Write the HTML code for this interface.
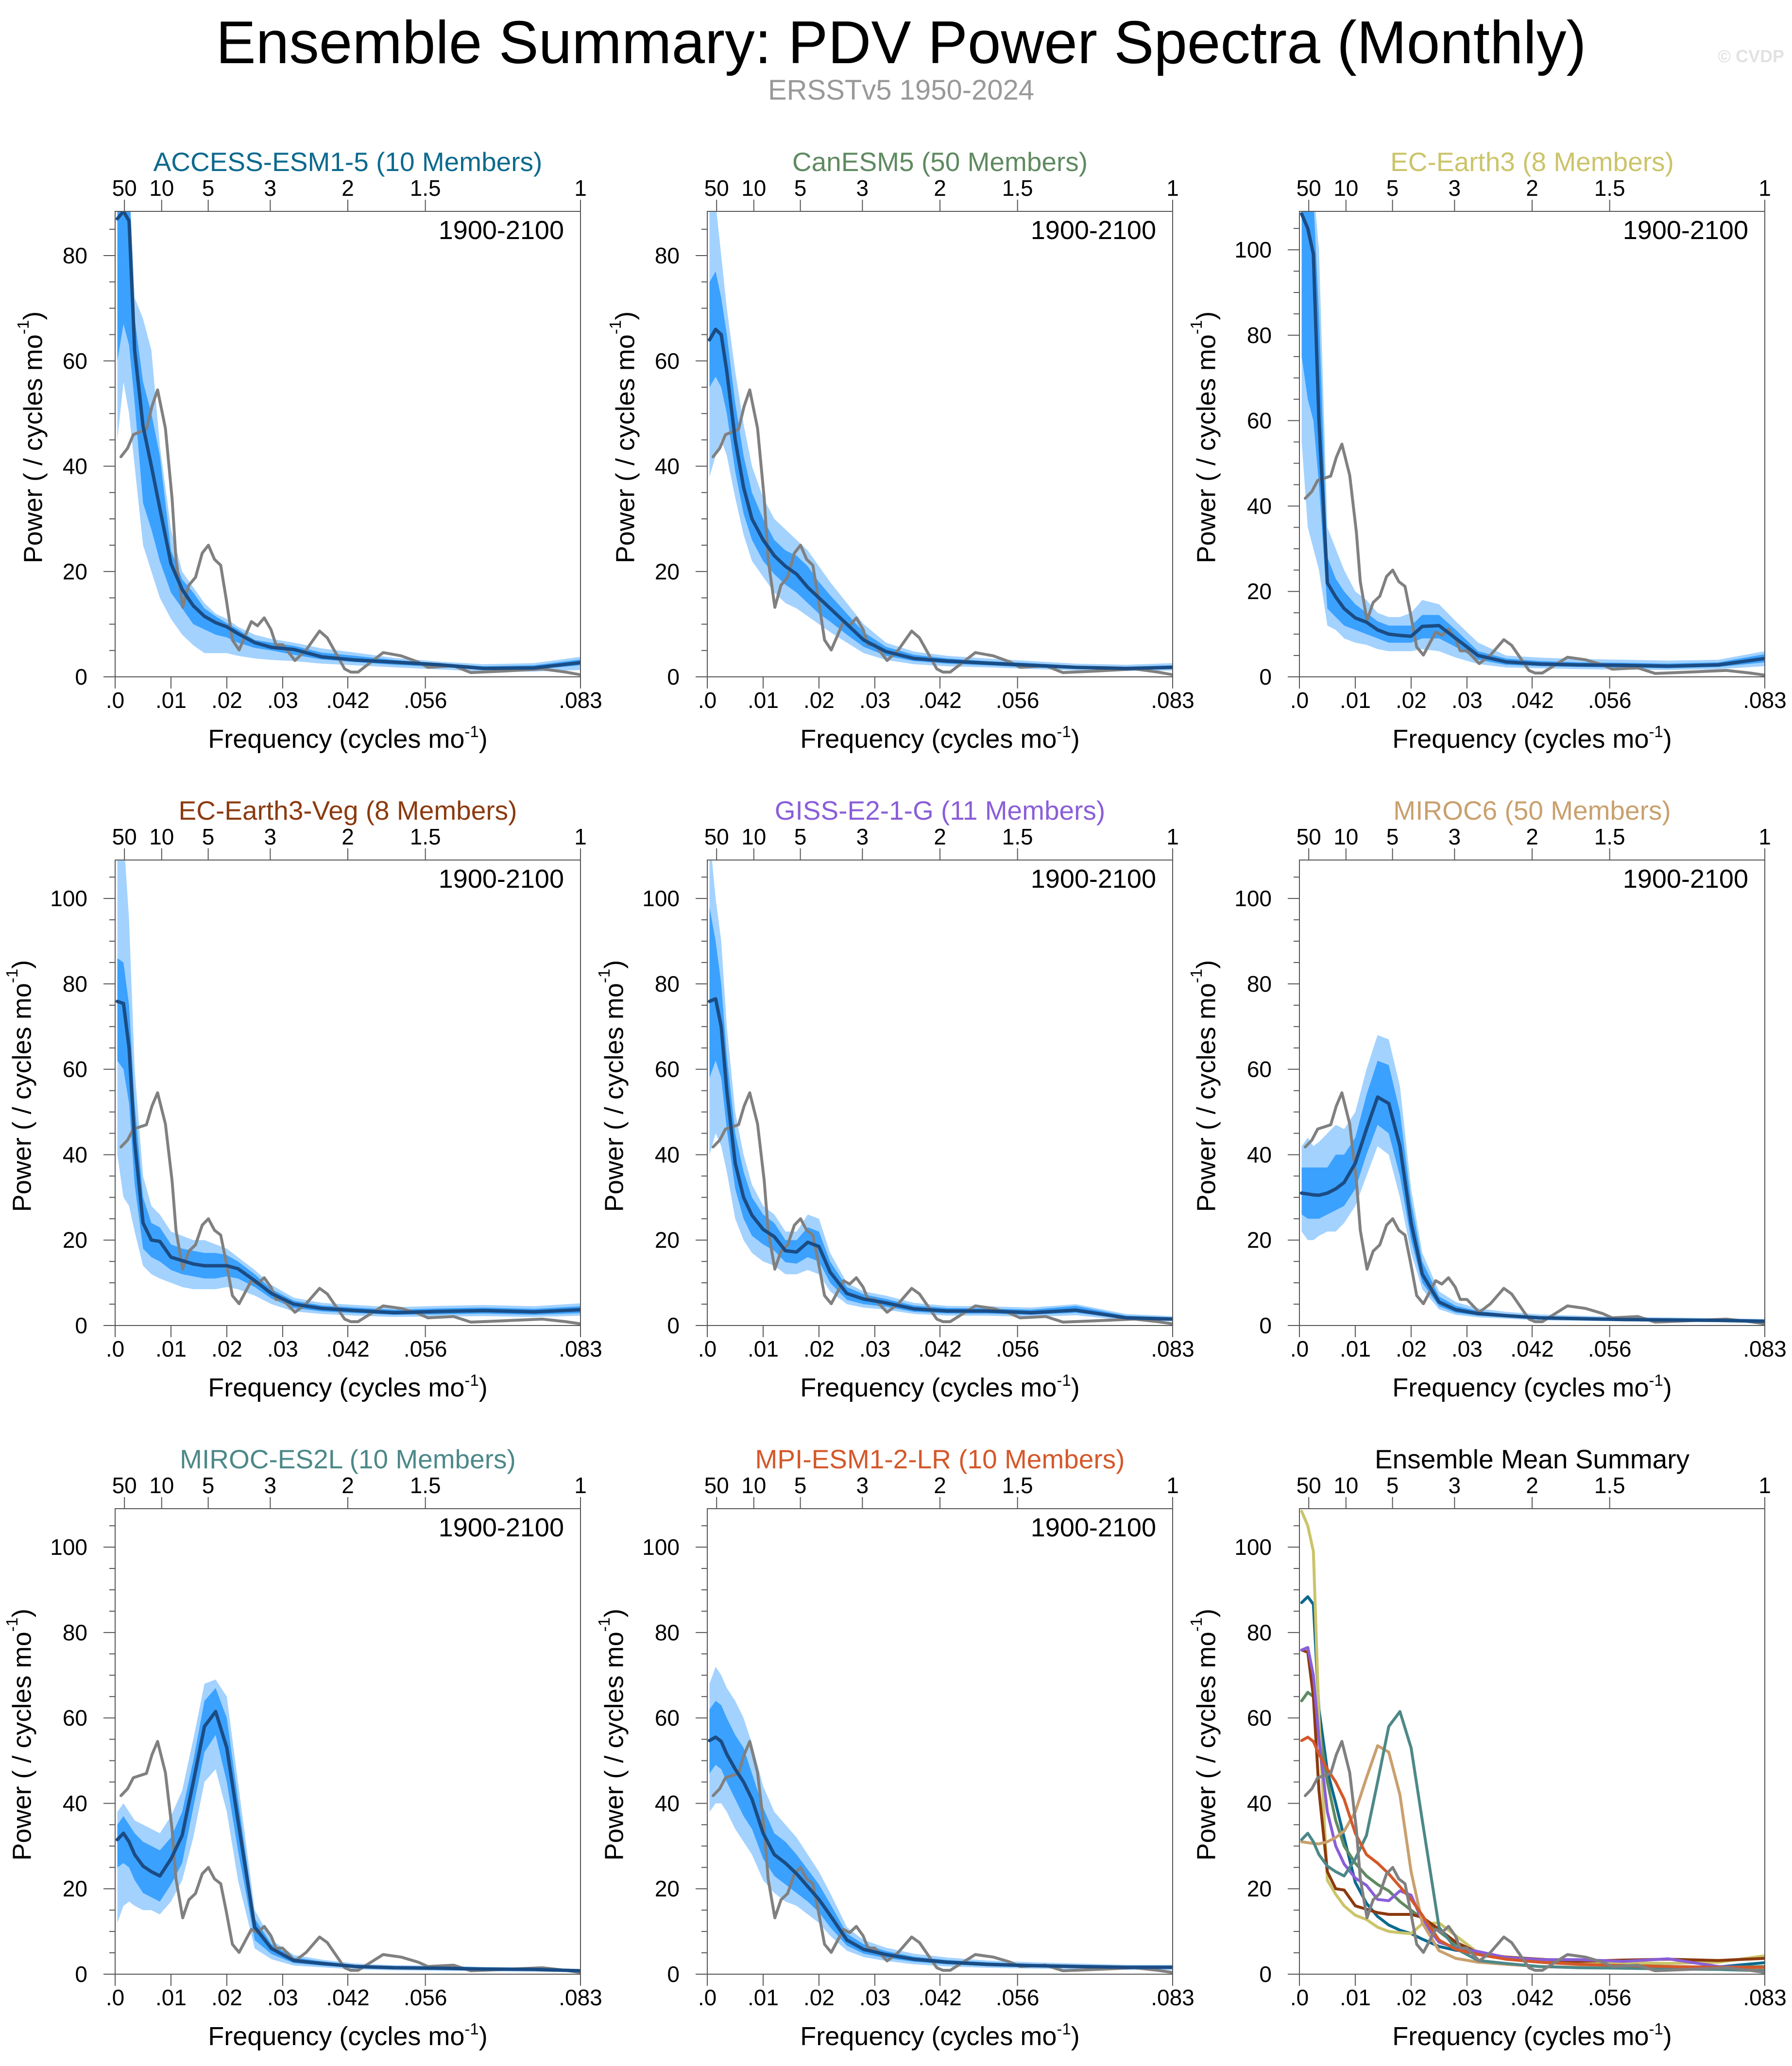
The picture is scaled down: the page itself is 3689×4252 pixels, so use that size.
<!DOCTYPE html>
<html><head><meta charset="utf-8"><style>
html,body{margin:0;padding:0;background:#fff;}
svg{display:block;font-family:"Liberation Sans",Arial,sans-serif;}
</style></head><body>
<svg id="fig" width="3689" height="4252" viewBox="0 0 3689 4252" xmlns="http://www.w3.org/2000/svg">
<text x="1855" y="130" font-size="124" text-anchor="middle" textLength="2821" lengthAdjust="spacingAndGlyphs" fill="#000">Ensemble Summary: PDV Power Spectra (Monthly)</text>
<text x="1855" y="205" font-size="58" text-anchor="middle" fill="#999">ERSSTv5 1950-2024</text>
<text x="3673" y="128" font-size="36" font-weight="bold" text-anchor="end" fill="#e2e2e2">© CVDP</text>
</svg>
<script>
// Shared frequency grid (cycles/mo)
const F = [0.0004,0.0015,0.0025,0.0035,0.005,0.0065,0.008,0.01,0.012,0.014,0.016,0.018,0.02,0.022,0.025,0.028,0.032,0.037,0.043,0.05,0.058,0.066,0.075,0.0833];
// Observations ERSSTv5
const obsF = [0.00104,0.00222,0.00326,0.0056,0.0066,0.0076,0.009,0.0102,0.0109,0.0121,0.0132,0.0144,0.0156,0.0167,0.0178,0.0189,0.0199,0.021,0.0222,0.0244,0.0255,0.0267,0.0279,0.0288,0.03,0.0322,0.0342,0.0366,0.038,0.0411,0.0422,0.0435,0.048,0.0512,0.0543,0.056,0.0606,0.0637,0.0696,0.0765,0.0807,0.0833];
const obsV = [41.8,43.4,46,47,51.4,54.5,47.2,33.8,22.3,13.2,17.4,18.9,23.5,25,22.3,21.2,14.7,7,5.1,10.5,9.7,11.2,9,6.1,6.1,3.1,5.1,8.7,7.4,1.5,0.9,0.9,4.6,4,2.8,1.8,2.1,0.8,1.1,1.5,0.9,0.4];

const accessMean = [87,88.4,86.6,62,47.6,40,32,21.5,16.6,13.5,11.5,10.3,9.5,8.2,6.5,5.6,5.2,3.8,3.2,2.8,2.3,1.6,1.7,2.7];
const accessOutHi = [95,95,95,72,68,62,44,28,20,17,14,12,11,9.5,8,7.2,6.5,5.4,4.6,3.6,2.9,2.4,2.6,3.8];
const accessOutLo = [45,56,50,40,25,20,15,11,8,6,4.5,4.5,4.5,4,3.5,3.2,3,2.5,2.2,1.8,1.4,1,1,1.3];
const accessInHi = [95,95,95,68,56,50,42,24,18.5,16,13,11.5,10.2,9,7,6.5,5.9,4.6,4,3.2,2.6,2,2.2,3.3];
const accessInLo = [60,67,63,52,33,28,22,16,13,10,9,8,7.5,6.5,5.5,5,4.2,3.3,2.8,2.3,1.9,1.3,1.4,2.2];

const canMean = [64,66,65,58,45,36,30,26,23,21,19.5,17,15,13,10,7,4.8,3.5,3,2.6,2.2,1.8,1.6,1.8];
const canOutHi = [95,90,80,70,58,48,40,34,30,28,26,24,21,18,14,10,6.5,4.8,4,3.5,3,2.5,2.3,2.6];
const canOutLo = [38,42,45,42,34,27,22,19,16,14,13,11.5,10,8.5,6.5,4.5,3.2,2.4,2,1.8,1.5,1.2,1.1,1.2];
const canInHi = [75,77,72,65,52,42,35,30,26,24,23,21,18,15.5,12,8.5,5.7,4.2,3.5,3,2.6,2.1,1.9,2.2];
const canInLo = [55,57,55,50,39,31,26,22,19.5,17.5,16,14,12,10.5,8,5.7,4,3,2.5,2.2,1.8,1.5,1.3,1.5];

const ecMean = [108.4,105,99,60,22,18.7,16,13.8,12.8,11,10,9.7,9.5,11.8,12,9,5,3.5,3,2.8,2.7,2.5,2.8,4.3];
const ecOutHi = [115,115,115,100,35,30,25,20,18,15,14,14,15,18,17,13,8,5,4.5,4.2,4,3.8,4,6];
const ecOutLo = [55,35,30,25,12,11,9,8,7.5,6.5,6,6,6,6.5,6,4.5,3,2.2,2,1.8,1.7,1.6,1.8,2.5];
const ecInHi = [115,115,112,85,28,23,20,17,15,13,12,12,12,14.5,14.5,11,6,4.3,3.7,3.4,3.3,3.1,3.4,5.3];
const ecInLo = [75,65,60,45,16,14,12,11,10,9,8,8,8,9,9,7,4,2.8,2.5,2.3,2.2,2,2.3,3.4];

const vegMean = [75.9,75.4,65,43,24,20,19.7,16,15.2,14.4,14,14,14,13.3,10.5,7.5,5,4,3.5,3,3.3,3.5,3.2,3.7];
const vegOutHi = [115,115,95,60,35,28,26,22,21,20,20,19,18,16,13,9.5,6.5,5.3,4.8,4.3,4.6,4.8,4.5,5.2];
const vegOutLo = [40,30,28,22,14,12,11,10,9,8.5,8.5,8.5,9,8.5,7,5,3.3,2.7,2.3,2,2.1,2.2,2,2.3];
const vegInHi = [86,85,75,52,30,24,23,19,18,17.5,17,17,16.5,15,12,8.5,5.8,4.7,4.2,3.7,4,4.2,3.9,4.5];
const vegInLo = [62,60,52,33,18,16,15,13,12,11.5,11,11,11.5,11,9,6.3,4.1,3.3,2.9,2.5,2.6,2.8,2.5,2.9];

const gissMean = [75.9,76.5,70,55,38,30,25.8,22.5,20.8,17.5,17.2,19.5,18.5,12.5,7.5,6.2,5.3,3.9,3.4,3.4,3,3.6,1.8,1.5];
const gissOutHi = [115,100,90,70,50,40,33,28,26,22,22,26,25,17,10,8,7,5.3,4.6,4.5,4.2,5,2.7,2.2];
const gissOutLo = [40,45,42,36,25,20,17,15,14,12,12,13,12,8,5,4.2,3.7,2.7,2.3,2.3,2,2.4,1.2,1];
const gissInHi = [98,90,80,63,45,36,30,26,24,20,20,23,22,15,9,7.3,6.2,4.7,4.1,4,3.7,4.6,2.3,1.9];
const gissInLo = [58,62,58,46,32,25,21,19,17.5,14.8,14.5,16,15,10,6,5,4.4,3.2,2.8,2.8,2.5,3,1.5,1.2];

const miroc6Mean = [31,30.8,30.6,30.5,31,32,33.5,38,46,53.5,52,42,24,12,5.5,3.7,2.8,2.3,1.8,1.6,1.4,1.3,1.2,1.0];
const miroc6OutHi = [42,44,42,43,45,47,46,50,60,68,67,56,32,17,8,5.5,4,3.2,2.6,2.3,2,1.9,1.7,1.5];
const miroc6OutLo = [22,20,20,21,22,22,24,28,35,42,40,30,17,8.5,3.8,2.5,1.9,1.6,1.2,1.1,1,0.9,0.8,0.7];
const miroc6InHi = [37,37,37,37,37,40,40,44,54,62,61,50,29,15,6.8,4.6,3.4,2.7,2.2,2,1.7,1.6,1.5,1.2];
const miroc6InLo = [26,25,25,25,26,27,28,32,40,47,45,35,20,10,4.5,3,2.3,1.9,1.5,1.3,1.2,1.1,1,0.8];

const es2lMean = [31.5,33,31,28,25.3,24,23,27,32.5,45,58,61.5,53,36,11,6,3.2,2.5,1.8,1.5,1.4,1.2,1.1,0.8];
const es2lOutHi = [38,40,38,36,35,34,33,37,43,55,68,69,65,45,15,8,4.5,3.4,2.5,2.1,2,1.7,1.5,1.2];
const es2lOutLo = [12,16,17,16,15,15,14,17,22,32,45,48,38,22,6,3.5,2,1.6,1.1,0.9,0.8,0.7,0.6,0.5];
const es2lInHi = [35,37,35,33,31,30,29,32,38,50,64,67,60,41,13,7,3.9,3,2.2,1.8,1.7,1.5,1.3,1];
const es2lInLo = [25,26,25,22,19,18,17,21,26,39,52,56,45,29,8,4.7,2.6,2,1.5,1.2,1.1,1,0.9,0.6];

const mpiMean = [54.7,55.5,54.5,51.5,48,45,41,33,28,26,23.5,20.5,17.5,13.8,8,5.8,4.6,3.5,2.8,2.3,2,1.8,1.6,1.6];
const mpiOutHi = [68,72,70,67,64,60,54,44,38,35,32,28,24,19,11,8,6.2,4.8,3.9,3.2,2.8,2.5,2.2,2.2];
const mpiOutLo = [38,40,40,38,34,31,28,22,19,17,16,14,12,9,5.5,4,3.1,2.3,1.8,1.5,1.3,1.2,1,1];
const mpiInHi = [62,64,63,60,56,53,47,39,33,31,28,24.5,21,16.5,9.5,7,5.4,4.1,3.3,2.8,2.4,2.1,1.9,1.9];
const mpiInLo = [47,49,48,45,41,37,34,27,23,21,19,17,14.5,11,6.7,4.8,3.8,2.9,2.3,1.9,1.6,1.5,1.3,1.3];

const modelNames = ["ACCESS-ESM1-5 (10 Members)","CanESM5 (50 Members)","EC-Earth3 (8 Members)","EC-Earth3-Veg (8 Members)","GISS-E2-1-G (11 Members)","MIROC6 (50 Members)","MIROC-ES2L (10 Members)","MPI-ESM1-2-LR (10 Members)"];
const modelColors = ["#0d6a8e","#5f8a60","#cbc46a","#8b3a0f","#8a5ed8","#c9a06e","#4d8888","#d4582a"];
const modelMeans = [accessMean,canMean,ecMean,vegMean,gissMean,miroc6Mean,es2lMean,mpiMean];
const modelBands = [
 [accessOutHi,accessOutLo,accessInHi,accessInLo],
 [canOutHi,canOutLo,canInHi,canInLo],
 [ecOutHi,ecOutLo,ecInHi,ecInLo],
 [vegOutHi,vegOutLo,vegInHi,vegInLo],
 [gissOutHi,gissOutLo,gissInHi,gissInLo],
 [miroc6OutHi,miroc6OutLo,miroc6InHi,miroc6InLo],
 [es2lOutHi,es2lOutLo,es2lInHi,es2lInLo],
 [mpiOutHi,mpiOutLo,mpiInHi,mpiInLo]];
const yMaxes = [88.4,88.4,109,109,109,109,109,109,109];
const xTickVals = [0,0.01,0.02,0.03,1/24,1/18,1/12];
const xTickLabels = [".0",".01",".02",".03",".042",".056",".083"];
const periodVals = [50,10,5,3,2,1.5,1];

const NS = "http://www.w3.org/2000/svg";
const svg = document.getElementById("fig");
const XMAX = 1/12, W = 958, H = 958;
const colLeft = [237,1456,2675], rowTop = [435,1770,3105];

function mk(tag, attrs, parent){
  const e = document.createElementNS(NS, tag);
  for (const k in attrs) e.setAttribute(k, attrs[k]);
  (parent||svg).appendChild(e);
  return e;
}

for (let p = 0; p < 9; p++) {
  const L = colLeft[p%3], T = rowTop[Math.floor(p/3)], B = T + H, R = L + W;
  const ymax = yMaxes[p];
  const xs = f => L + f / XMAX * W;
  const ys = v => B - v / ymax * H;
  const g = mk("g", {});
  
  
  const clipId = "clip" + p;
  const cp = mk("clipPath", {id: clipId}, g);
  mk("rect", {x: L, y: T, width: W, height: H}, cp);
  const plot = mk("g", {"clip-path": "url(#" + clipId + ")"}, g);

  const line = (fs, vs, color, width, name) => {
    const pts = fs.map((f,i) => xs(f).toFixed(1) + "," + ys(vs[i]).toFixed(1)).join(" ");
    const pl = mk("polyline", {points: pts, fill: "none", stroke: color, "stroke-width": width, "stroke-linejoin": "round", "stroke-linecap": "round"}, plot);
    
    
  };
  const band = (hi, lo, color, name) => {
    const pts = F.map((f,i) => xs(f).toFixed(1) + "," + ys(hi[i]).toFixed(1))
      .concat(F.map((f,i) => xs(f).toFixed(1) + "," + ys(lo[i]).toFixed(1)).reverse()).join(" ");
    const pg = mk("polygon", {points: pts, fill: color}, plot);
    
    
  };

  let title, tcolor;
  if (p < 8) {
    const bd = modelBands[p];
    band(bd[0], bd[1], "#a3d2ff", "outer-spread-band");
    band(bd[2], bd[3], "#3ba1ff", "inner-spread-band");
    line(obsF, obsV, "#808080", 6, "obs-line");
    line(F, modelMeans[p], "#1a4c84", 7, "ensemble-mean-line");
    title = modelNames[p]; tcolor = modelColors[p];
    const yr = mk("text", {x: R - 34, y: T + 57, "font-size": 54, "text-anchor": "end", fill: "#000"}, g);
    yr.textContent = "1900-2100";
    
    
  } else {
    for (let m = 0; m < 8; m++) line(F, modelMeans[m], modelColors[m], 6, "summary-line-" + (m+1));
    line(obsF, obsV, "#808080", 6, "obs-line");
    title = "Ensemble Mean Summary"; tcolor = "#000";
  }

  const fr = mk("rect", {x: L, y: T, width: W, height: H, fill: "none", stroke: "#555", "stroke-width": 2}, g);
  
  

  for (let v = 0; v <= ymax; v += 5) {
    const major = v % 20 === 0;
    mk("line", {x1: L - (major ? 24 : 12), x2: L, y1: ys(v), y2: ys(v), stroke: "#555", "stroke-width": 2}, g);
    if (major) {
      const t = mk("text", {x: L - 57, y: ys(v) + 16, "font-size": 46, "text-anchor": "end"}, g);
      t.textContent = v;
      
      
    }
  }
  xTickVals.forEach((f,i) => {
    mk("line", {x1: xs(f), x2: xs(f), y1: B, y2: B + 24, stroke: "#555", "stroke-width": 2}, g);
    const t = mk("text", {x: xs(f), y: B + 64, "font-size": 46, "text-anchor": "middle"}, g);
    t.textContent = xTickLabels[i];
    
    
  });
  mk("line", {x1: L - 24, x2: L, y1: B, y2: B, stroke: "#555", "stroke-width": 2}, g);
  periodVals.forEach(P => {
    const f = 1 / (12 * P);
    mk("line", {x1: xs(f), x2: xs(f), y1: T, y2: T - 24, stroke: "#555", "stroke-width": 2}, g);
    const t = mk("text", {x: xs(f), y: T - 32, "font-size": 46, "text-anchor": "middle"}, g);
    t.textContent = P;
    
    
  });
  const tt = mk("text", {x: L + W/2, y: T - 83, "font-size": 55, "text-anchor": "middle", fill: tcolor}, g);
  tt.textContent = title;
  
  

  const xt = mk("text", {x: L + W/2, y: B + 146, "font-size": 54, "text-anchor": "middle"}, g);
  xt.innerHTML = 'Frequency (cycles mo<tspan font-size="33" dy="-22">-1</tspan><tspan dy="22">)</tspan>';
  
  

  const yx = L - (ymax > 100 ? 188 : 165), yy = T + H/2 - 14;
  const yt = mk("text", {x: yx, y: yy, "font-size": 54, "text-anchor": "middle", transform: "rotate(-90 " + yx + " " + yy + ")", "dominant-baseline": "middle"}, g);
  yt.innerHTML = 'Power ( / cycles mo<tspan font-size="33" dy="-22">-1</tspan><tspan dy="22">)</tspan>';
  
  
}
</script>
</body></html>
